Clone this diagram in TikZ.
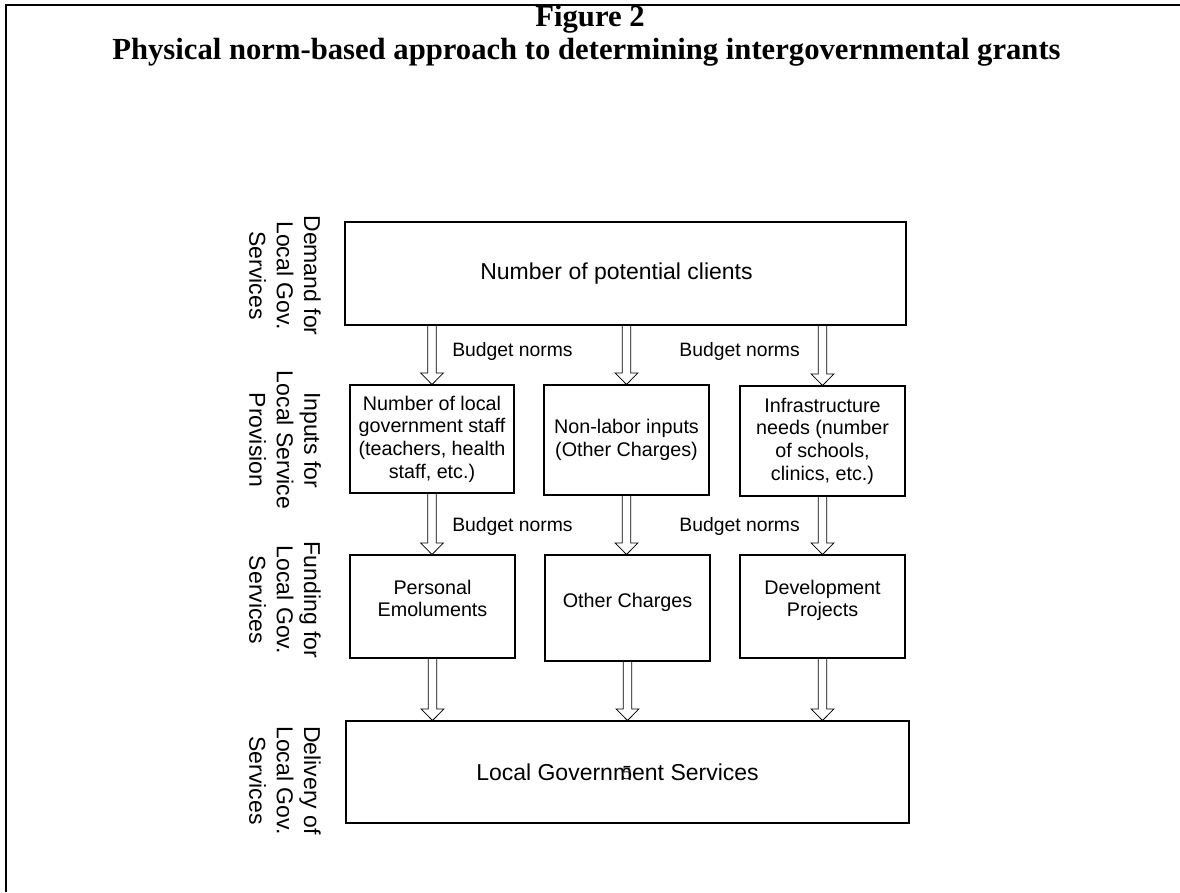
\documentclass[tikz,border=0pt]{standalone}
\usepackage{fontspec}
\setmainfont{Liberation Serif}
\setsansfont{Liberation Sans}
\usetikzlibrary{calc}
\newcommand{\blockarrow}[2]{%
  \path[arrowline] let \p1=(#1), \p2=(#2) in
    ({\x2-3.15pt},\y1) -- ({\x2-3.15pt},{\y2+8.6pt}) -- ({\x2-8.5pt},{\y2+8.6pt}) --
    (\x2,\y2) -- ({\x2+8.5pt},{\y2+8.6pt}) -- ({\x2+3.15pt},{\y2+8.6pt}) --
    ({\x2+3.15pt},\y1) -- cycle;}
\begin{document}
\begin{tikzpicture}[x=0.75pt,y=-0.75pt,
  box/.style={draw=black,line width=0.8pt,inner sep=0pt,align=center,
    font=\sffamily\fontsize{14.8pt}{17pt}\selectfont},
  bigbox/.style={box,font=\sffamily\fontsize{17.25pt}{20pt}\selectfont},
  side/.style={rotate=-90,align=center,inner sep=0pt,
    font=\sffamily\fontsize{17.25pt}{20.6pt}\selectfont},
  norm/.style={inner sep=0pt,font=\sffamily\fontsize{14.5pt}{16.9pt}\selectfont},
  titletext/.style={inner sep=0pt,font=\bfseries\fontsize{23pt}{27pt}\selectfont},
  pagenum/.style={inner sep=0pt,font=\fontsize{15pt}{18pt}\selectfont},
  arrowline/.style={draw=black,line width=0.6pt,fill=white,line join=miter},
  frameline/.style={line width=1.5pt}
]
\useasboundingbox (0,0) rectangle (1180,892);
\draw[frameline] (5.5,892) -- (5.5,5) -- (1180,5);

% title
\node[titletext,anchor=base] (fig) at (590,27) {Figure 2};
\node[titletext,anchor=base] (title) at (586.5,60) {Physical norm-based approach to determining intergovernmental grants};

% row labels
\node[side] (lab1) at (285,275.5) {Demand for\\Local Gov.\\Services};
\node[side] (lab2) at (285,440) {Inputs for\\Local Service\\Provision};
\node[side] (lab3) at (285,600) {Funding for\\Local Gov.\\Services};
\node[side] (lab4) at (285,780.5) {Delivery of\\Local Gov.\\Services};

% boxes
\node[bigbox,minimum width=420.75pt,minimum height=77.25pt] (demand) at (625.5,273.5)
  {Number of potential clients\hspace{13.5pt}};

\node[box,minimum width=123pt,minimum height=81pt] (in1) at (432,439)
  {Number of local\\government staff\\(teachers, health\\staff, etc.)};
\node[box,minimum width=123.75pt,minimum height=82.5pt] (in2) at (626.5,440)
  {Non-labor inputs\\(Other Charges)};
\node[box,minimum width=123.75pt,minimum height=82.5pt] (in3) at (822.5,441)
  {Infrastructure\\needs (number\\of schools,\\clinics, etc.)};

\node[box,minimum width=123.75pt,minimum height=77.25pt] (fund1) at (432.5,606.5)
  {Personal\\Emoluments\\[-5pt]};
\node[box,minimum width=123.75pt,minimum height=79.5pt] (fund2) at (627.5,608)
  {Other Charges\\[-5pt]};
\node[box,minimum width=123.75pt,minimum height=77.25pt] (fund3) at (822.5,606.5)
  {Development\\Projects\\[-5pt]};

\node[bigbox,minimum width=422.25pt,minimum height=76.5pt] (deliv) at (627.5,772)
  {Local Government Services\hspace{15pt}};
\node[pagenum] (pg) at (627,773) {5};

% budget norm labels
\node[norm,anchor=base west] (bn1) at (452,356.5) {Budget norms};
\node[norm,anchor=base east] (bn2) at (800,356.5) {Budget norms};
\node[norm,anchor=base west] (bn3) at (452,531) {Budget norms};
\node[norm,anchor=base east] (bn4) at (800,531) {Budget norms};

% arrows
\blockarrow{demand.south -| in1.north}{in1.north}
\blockarrow{demand.south -| in2.north}{in2.north}
\blockarrow{demand.south -| in3.north}{in3.north}
\blockarrow{in1.south}{in1.south |- fund1.north}
\blockarrow{in2.south}{in2.south |- fund2.north}
\blockarrow{in3.south}{in3.south |- fund3.north}
\blockarrow{fund1.south}{fund1.south |- deliv.north}
\blockarrow{fund2.south}{fund2.south |- deliv.north}
\blockarrow{fund3.south}{fund3.south |- deliv.north}
\end{tikzpicture}
\end{document}
